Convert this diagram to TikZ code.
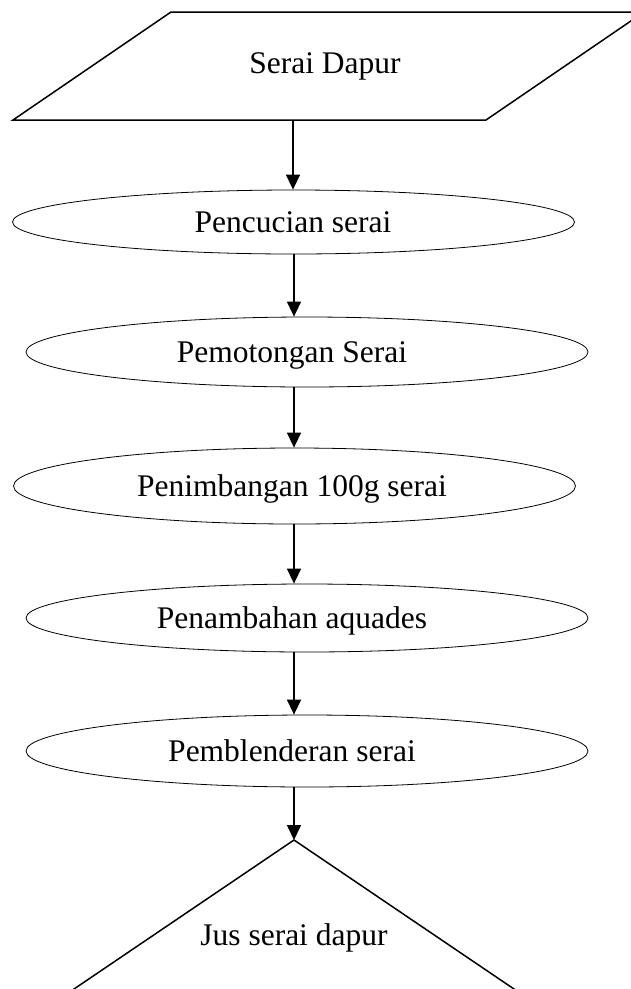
\documentclass[tikz,border=0pt]{standalone}
\usepackage{fontspec}
\setmainfont{Liberation Serif}
\usetikzlibrary{arrows.meta}
\usetikzlibrary{shapes.geometric}

\begin{document}
\begin{tikzpicture}[x=1pt, y=-1pt,
    every node/.style={font=\fontsize{31.5}{38}\selectfont},
    steptext/.style={text height=21pt, text depth=0pt, inner sep=0pt},
    stepoval/.style={ellipse, draw, line width=0.8pt,
      minimum width=562pt, inner sep=0pt},
    outline/.style={line width=1.5pt, line join=miter},
    flow/.style={-{Triangle[length=15pt,width=14pt]}, line width=1.6pt}]
   \useasboundingbox (0,0) rectangle (631,989);
   % input
   \draw[outline] (13,120) -- (171,12) -- (644,12) -- (486,120) -- cycle;
   \node[steptext] (src) at (325,63) {Serai Dapur};
   \coordinate (srcbase) at (293,120);
   % process steps
   \node[stepoval, minimum height=64pt] (e1) at (293.5,222) {};
   \node[stepoval, minimum height=70pt] (e2) at (307,352) {};
   \node[stepoval, minimum height=76pt] (e3) at (294.5,486) {};
   \node[stepoval, minimum height=68pt] (e4) at (307,618) {};
   \node[stepoval, minimum height=72pt] (e5) at (307,751) {};
   \node[steptext] (t1) at (293,222) {Pencucian serai};
   \node[steptext] (t2) at (292,352) {Pemotongan Serai};
   \node[steptext] (t3) at (292,486) {Penimbangan 100g serai};
   \node[steptext] (t4) at (292,618) {Penambahan aquades};
   \node[steptext] (t5) at (292,751) {Pemblenderan serai};
   % output
   \coordinate (spine) at (294,0);
   \coordinate (apex) at (294,840);
   \draw[outline] (apex) -- (43,1010) -- (545,1010) -- cycle;
   \node[steptext] (out) at (294,935) {Jus serai dapur};
   % arrows
   \draw[flow] (srcbase) -- (e1.north -| srcbase);
   \draw[flow] (e1.south -| spine) -- (e2.north -| spine);
   \draw[flow] (e2.south -| spine) -- (e3.north -| spine);
   \draw[flow] (e3.south -| spine) -- (e4.north -| spine);
   \draw[flow] (e4.south -| spine) -- (e5.north -| spine);
   \draw[flow] (e5.south -| spine) -- (apex);
\end{tikzpicture}
\end{document}
